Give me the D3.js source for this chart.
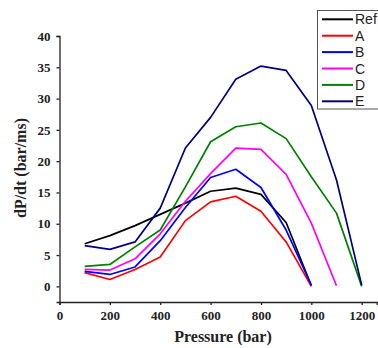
<!DOCTYPE html>
<html><head><meta charset="utf-8">
<script src="https://cdn.jsdelivr.net/npm/d3@7"></script>
<style>body{margin:0;background:#fff}svg{display:block}</style>
</head><body>
<svg id="c" width="378" height="348"></svg>
<script>
const pressure = [100,200,300,400,500,600,700,800,900,1000,1100,1200];
const seriesNames = ["Ref","A","B","C","D","E"];
const seriesColors = ["#000000","#ff0000","#0000ff","#ff00ff","#008000","#000080"];
const refVals = [6.8, 8.1, 9.7, 11.5, 13.3, 15.2, 15.7, 14.7, 10.2, 0.1];
const aVals = [2.2, 1.1, 2.7, 4.7, 10.5, 13.5, 14.4, 12.0, 7.1, 0];
const bVals = [2.4, 1.9, 3.1, 7.3, 12.6, 17.4, 18.7, 15.8, 9.0, 0.2];
const cVals = [2.7, 2.6, 4.4, 8.4, 13.6, 18.0, 22.1, 21.9, 17.9, 10.1, 0.1];
const dVals = [3.2, 3.5, 6.3, 9.0, 15.9, 23.1, 25.5, 26.1, 23.6, 17.5, 11.7, 0];
const eVals = [6.5, 5.9, 7.1, 12.5, 22.1, 27.0, 33.1, 35.2, 34.5, 28.9, 17.0, 0.2];
const xTicks = [0,200,400,600,800,1000,1200];
const yTicks = [0,5,10,15,20,25,30,35,40];

const allVals = [refVals,aVals,bVals,cVals,dVals,eVals];
const svg = d3.select("#c");
const x = d3.scaleLinear().domain([0,1260]).range([59.5,376.8]);
const y = d3.scaleLinear().domain([-2.5,40]).range([302,36]);

const serif = "'Liberation Serif','Times New Roman',serif";
const sans = "'Liberation Sans',Arial,sans-serif";

const xAxis = svg.append("g").attr("transform","translate(0,302)")
  .call(d3.axisBottom(x).tickValues(xTicks).tickSize(3).tickPadding(6).tickFormat(d3.format("d")));
const yAxis = svg.append("g").attr("transform","translate(59.5,0)")
  .call(d3.axisLeft(y).tickValues(yTicks).tickSize(3).tickPadding(6));
[xAxis,yAxis].forEach(g=>{
  g.selectAll("path,line").attr("stroke","#222").attr("stroke-width",1.3);
  g.selectAll("text").attr("font-family",serif).attr("font-weight","bold")
   .attr("font-size",13).attr("fill","#222");
});

const line = d3.line().x((d,i)=>x(pressure[i])).y(d=>y(d));
allVals.forEach((vals,k)=>{
  svg.append("path").datum(vals).attr("d",line).attr("fill","none")
    .attr("stroke",seriesColors[k]).attr("stroke-width",1.7).attr("stroke-linejoin","round");
});

svg.append("text").attr("x",223).attr("y",342).attr("text-anchor","middle")
  .attr("font-family",serif).attr("font-weight","bold").attr("font-size",16)
  .attr("fill","#222").text("Pressure (bar)");
svg.append("text").attr("transform","translate(26,168) rotate(-90)").attr("text-anchor","middle")
  .attr("font-family",serif).attr("font-weight","bold").attr("font-size",16)
  .attr("fill","#222").text("dP/dt (bar/ms)");

const lg = svg.append("g");
lg.append("rect").attr("x",317.5).attr("y",10.5).attr("width",70).attr("height",98.5)
  .attr("fill","#fff").attr("stroke","#555").attr("stroke-width",1);
seriesNames.forEach((n,i)=>{
  const yy = 19.3 + i*16.4;
  lg.append("line").attr("x1",322).attr("x2",353).attr("y1",yy).attr("y2",yy)
    .attr("stroke",seriesColors[i]).attr("stroke-width",2);
  lg.append("text").attr("x",355).attr("y",yy+5).attr("font-family",sans)
    .attr("font-size",14).attr("fill","#222").text(n);
});
</script>
</body></html>
